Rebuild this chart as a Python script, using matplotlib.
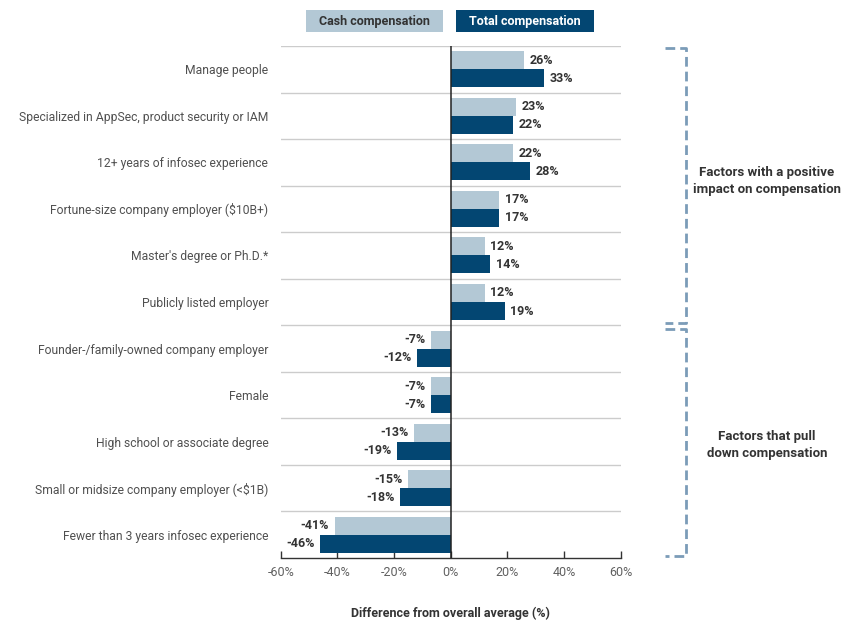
import matplotlib.pyplot as plt
import matplotlib.transforms as mtransforms
from matplotlib.patches import FancyBboxPatch

plt.rcParams['font.family'] = ['Roboto', 'DejaVu Sans']

categories = [
    "Manage people",
    "Specialized in AppSec, product security or IAM",
    "12+ years of infosec experience",
    "Fortune-size company employer ($10B+)",
    "Master's degree or Ph.D.*",
    "Publicly listed employer",
    "Founder-/family-owned company employer",
    "Female",
    "High school or associate degree",
    "Small or midsize company employer (<$1B)",
    "Fewer than 3 years infosec experience",
]
cash = [26, 23, 22, 17, 12, 12, -7, -7, -13, -15, -41]
total = [33, 22, 28, 17, 14, 19, -12, -7, -19, -18, -46]
ticks = [-60, -40, -20, 0, 20, 40, 60]

cash_color = "#b3c8d5"
total_color = "#034672"
text_color = "#333333"
bracket_color = "#7b9cb8"

fig = plt.figure(figsize=(8.51, 6.2), dpi=100)
ax = fig.add_axes([0.330, 1 - 558 / 620, 0.3995, 512 / 620])

n = len(categories)
ys = list(range(n))
h = 0.387
ax.barh([y - h / 2 for y in ys], cash, height=h, color=cash_color, zorder=2)
ax.barh([y + h / 2 for y in ys], total, height=h, color=total_color, zorder=2)

for y, c, t in zip(ys, cash, total):
    for v, yy in ((c, y - h / 2), (t, y + h / 2)):
        off = 4 if v >= 0 else -4
        ax.annotate(f"{v}%", (v, yy), xytext=(off, 0), textcoords="offset points",
                    ha="left" if v >= 0 else "right", va="center",
                    fontsize=9, fontweight="bold", color=text_color)

ax.set_xlim(-60, 60)
ax.set_ylim(n - 0.5, -0.5)
ax.set_yticks(ys)
ax.set_yticklabels(categories, fontsize=8.7, color="#505050")
ax.tick_params(axis="y", length=0, pad=9)
ax.set_xticks(ticks)
ax.set_xticklabels([f"{t}%" for t in ticks], fontsize=9, color="#606060")
ax.tick_params(axis="x", direction="in", length=5, width=1, color="#333333", pad=6)

for sep in [i - 0.5 for i in range(n)]:
    ax.axhline(sep, color="#cccccc", lw=1, zorder=1)
ax.axvline(0, color="#222222", lw=1.1, zorder=3)
for s in ("top", "right", "left"):
    ax.spines[s].set_visible(False)
ax.spines["bottom"].set_color("#333333")
ax.spines["bottom"].set_linewidth(1)

ax.set_xlabel("Difference from overall average (%)", fontsize=9, fontweight="bold",
              color=text_color, labelpad=20)

# legend boxes
for x0, x1, label, fc, tc in ((306, 443, "Cash compensation", cash_color, text_color),
                              (456, 594, "Total compensation", total_color, "white")):
    fig.add_artist(FancyBboxPatch((x0 / 851, 1 - 32 / 620), (x1 - x0) / 851, 22 / 620,
                                  boxstyle="square,pad=0", fc=fc, ec="none",
                                  transform=fig.transFigure))
    fig.text((x0 + x1) / 2 / 851, 1 - 21 / 620, label, ha="center", va="center",
             fontsize=9, fontweight="bold", color=tc)

# brackets
tr = mtransforms.blended_transform_factory(fig.transFigure, ax.transData)
xs, xb = 665 / 851, 686 / 851
for top, bot in ((-0.45, 5.45), (5.58, 10.45)):
    fig.add_artist(plt.Line2D([xs, xb, xb, xs], [top, top, bot, bot], transform=tr,
                              color=bracket_color, lw=2, ls=(0, (3.5, 1.8))))

fig.text(767 / 851, 1 - 181 / 620, "Factors with a positive\nimpact on compensation",
         ha="center", va="center", fontsize=9.5, fontweight="bold", color=text_color,
         linespacing=1.35)
fig.text(767 / 851, 1 - 445 / 620, "Factors that pull\ndown compensation",
         ha="center", va="center", fontsize=9.5, fontweight="bold", color=text_color,
         linespacing=1.35)

fig.savefig("out.png", dpi=100)
